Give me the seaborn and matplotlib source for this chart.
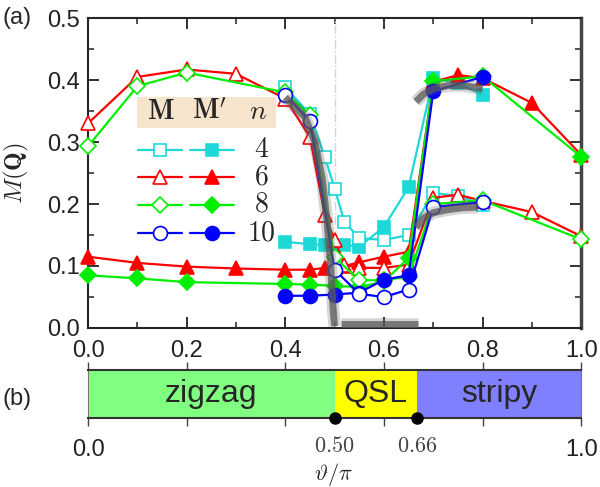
import numpy as np
import pandas as pd
import matplotlib
matplotlib.use('Agg')
import matplotlib.pyplot as plt
from matplotlib.lines import Line2D
from matplotlib.patches import Rectangle
import seaborn as sns

# ---- data ----
# n = 4 (cyan squares)
x4 = [0.40, 0.45, 0.48, 0.50, 0.52, 0.55, 0.60, 0.65, 0.70, 0.75, 0.80]
m4 = [0.388, 0.345, 0.276, 0.225, 0.171, 0.145, 0.142, 0.150, 0.218, 0.213, 0.199]
mp4 = [0.139, 0.135, 0.134, 0.134, 0.134, 0.131, 0.163, 0.227, 0.403, 0.395, 0.376]

# n = 6 (red triangles)
x6 = [0.0, 0.1, 0.2, 0.3, 0.4, 0.45, 0.48, 0.50, 0.52, 0.55, 0.60, 0.65, 0.70, 0.75, 0.80, 0.90, 1.0]
m6 = [0.330, 0.405, 0.417, 0.410, 0.370, 0.308, 0.182, 0.142, 0.102, 0.097, 0.097, 0.102,
      0.210, 0.215, 0.205, 0.187, 0.148]
mp6 = [0.115, 0.105, 0.099, 0.096, 0.094, 0.094, 0.097, 0.097, 0.100, 0.106, 0.115, 0.123,
       0.397, 0.408, 0.403, 0.363, 0.279]

# n = 8 (green diamonds)
x8 = [0.0, 0.1, 0.2, 0.4, 0.45, 0.50, 0.55, 0.60, 0.65, 0.70, 0.80, 1.0]
m8 = [0.293, 0.390, 0.412, 0.380, 0.343, 0.114, 0.077, 0.077, 0.083, 0.200, 0.206, 0.143]
mp8 = [0.085, 0.080, 0.074, 0.071, 0.070, 0.068, 0.066, 0.075, 0.113, 0.398, 0.406, 0.276]

# n = 10 (blue circles)
x10 = [0.40, 0.45, 0.50, 0.55, 0.60, 0.65, 0.70, 0.80]
m10 = [0.376, 0.334, 0.094, 0.055, 0.050, 0.062, 0.195, 0.203]
mp10 = [0.052, 0.052, 0.054, 0.057, 0.078, 0.085, 0.382, 0.405]

# thick gray guide curves
gray_segments = [
    ([0.40, 0.44, 0.46, 0.475, 0.485, 0.492, 0.497, 0.50], [0.372, 0.34, 0.30, 0.24, 0.17, 0.10, 0.03, 0.003]),
    ([0.512, 0.67], [0.007, 0.007]),
    ([0.665, 0.68, 0.70, 0.73, 0.76, 0.80], [0.365, 0.377, 0.386, 0.391, 0.391, 0.386]),
    ([0.665, 0.68, 0.70, 0.73, 0.76, 0.79], [0.162, 0.177, 0.186, 0.191, 0.194, 0.195]),
]

# phase diagram
phase_names = ['zigzag', 'QSL', 'stripy']
phase_edges = [0.0, 0.5, 0.667, 1.0]
phase_colors = ['#80ff80', '#ffff00', '#8080ff']
critical_points = [0.5, 0.667]
critical_labels = ['0.50', '0.66']

series = [
    ('4', x4, m4, mp4, '#1ed8d8', 's', 9),
    ('6', x6, m6, mp6, '#ff0000', '^', 10.5),
    ('8', x8, m8, mp8, '#00ee00', 'D', 8.5),
    ('10', x10, m10, mp10, '#0000ff', 'o', 10),
]

sns.set_style('ticks')
plt.rcParams['font.family'] = ['Liberation Sans', 'DejaVu Sans']
plt.rcParams['mathtext.fontset'] = 'cm'
plt.rcParams['axes.linewidth'] = 1.5

fig = plt.figure(figsize=(6, 4.87), dpi=100)
ax = fig.add_axes([0.1467, 0.3265, 0.822, 0.6365])
axb = fig.add_axes([0.1467, 0.1417, 0.822, 0.0985])

# vertical dash-dot line at the transition
ax.axvline(0.5, color='#c8d6e6', lw=1.0, ls='-.', zorder=1)

for label, xs, m, mp, c, mk, ms in series:
    df = pd.DataFrame({'theta': xs, 'M': m, 'Mp': mp})
    sns.lineplot(data=df, x='theta', y='Mp', ax=ax, color=c, lw=1.6, marker=mk,
                 markersize=ms, markerfacecolor=c, markeredgecolor=c, markeredgewidth=1.2,
                 zorder=3, clip_on=False)
    sns.lineplot(data=df, x='theta', y='M', ax=ax, color=c, lw=1.6, marker=mk,
                 markersize=ms, markerfacecolor='white', markeredgecolor=c, markeredgewidth=1.2,
                 zorder=3, clip_on=False)

for gx, gy in gray_segments:
    ax.plot(gx, gy, color='0.35', lw=9, alpha=0.25, solid_capstyle='butt', zorder=4, clip_on=True)
    ax.plot(gx, gy, color='0.35', lw=5, alpha=0.75, solid_capstyle='butt', zorder=4, clip_on=True)

ax.set_xlim(0, 1)
ax.set_ylim(0, 0.5)
ax.set_xticks(np.arange(0, 1.01, 0.2))
ax.set_xticks(np.arange(0, 1.01, 0.1), minor=True)
ax.set_yticks(np.arange(0, 0.51, 0.1))
ax.set_yticks(np.arange(0, 0.51, 0.05), minor=True)
ax.set_xticklabels(['0.0', '0.2', '0.4', '0.6', '0.8', '1.0'])
ax.set_yticklabels(['0.0', '0.1', '0.2', '0.3', '0.4', '0.5'])
ax.tick_params(which='both', direction='in', top=True, right=True, colors='#222',
               labelsize=17)
ax.tick_params(which='major', length=8, width=1.3)
ax.tick_params(which='minor', length=4, width=1.1)
ax.tick_params(axis='x', pad=9)
ax.tick_params(axis='y', pad=6)
ax.spines['right'].set_linewidth(2.5)
ax.spines['right'].set_color('#444')
ax.set_xlabel('')
ax.set_ylabel(r'$M(\mathbf{Q})$', fontsize=18)
ax.yaxis.set_label_coords(-0.115, 0.5)

# legend table
ax.add_patch(Rectangle((0.099, 0.645), 0.282, 0.1, transform=ax.transAxes,
                       facecolor='#f6e4cc', edgecolor='none', zorder=5))
for tx, s in [(0.148, r'$\mathbf{M}$'), (0.247, r"$\mathbf{M}'$"), (0.345, r'$n$')]:
    ax.text(tx, 0.697, s, transform=ax.transAxes, fontsize=20, ha='center', va='center', zorder=6)
row_y = [0.574, 0.487, 0.397, 0.306]
for (label, xs, m, mp, c, mk, ms), yy in zip(series, row_y):
    ax.add_line(Line2D([0.101, 0.191], [yy, yy], transform=ax.transAxes, color=c, lw=1.6,
                       zorder=6))
    ax.add_line(Line2D([0.146], [yy], transform=ax.transAxes, marker=mk, markersize=ms,
                       markerfacecolor='white', markeredgecolor=c, markeredgewidth=1.2, zorder=6))
    ax.add_line(Line2D([0.207, 0.296], [yy, yy], transform=ax.transAxes, color=c, lw=1.6,
                       zorder=6))
    ax.add_line(Line2D([0.252], [yy], transform=ax.transAxes, marker=mk, markersize=ms,
                       markerfacecolor=c, markeredgecolor=c, markeredgewidth=1.2, zorder=6))
    ax.text(0.352, yy, '$' + label + '$', transform=ax.transAxes, fontsize=20,
            ha='center', va='center', zorder=6)

# phase bar
widths = np.diff(phase_edges)
axb.barh([0.5] * 3, widths, left=phase_edges[:-1], height=1.0, color=phase_colors,
         edgecolor='none')
for name, lo, w in zip(phase_names, phase_edges[:-1], widths):
    axb.text(lo + w / 2, 0.5, name, ha='center', va='center', fontsize=23)
axb.plot(critical_points, [0, 0], 'o', color='black', ms=8, clip_on=False, zorder=5)
axb.set_xlim(0, 1)
axb.set_ylim(0, 1)
axb.set_yticks([])
axb.set_xticks(np.arange(0, 1.01, 0.2))
axb.set_xticklabels(['0.0', '', '', '', '', '1.0'])
axb.tick_params(axis='x', direction='out', top=True, length=6, width=1.0, colors='#444',
                labelcolor='#222', labelsize=17, pad=9)
axb.set_xticks(critical_points, labels=['$' + s + '$' for s in critical_labels], minor=True)
axb.tick_params(axis='x', which='minor', length=0, labelsize=16, labelcolor='#444', pad=13)
for side in ['top', 'bottom']:
    axb.spines[side].set_linewidth(1.5)
    axb.spines[side].set_color('#333')
for side in ['left', 'right']:
    axb.spines[side].set_linewidth(0.8)
    axb.spines[side].set_color('#777')
axb.set_xlabel(r'$\vartheta/\pi$', fontsize=16)
axb.xaxis.set_label_coords(0.497, -0.90)

fig.text(0.005, 0.963, '(a)', fontsize=17, va='center', ha='left')
fig.text(0.005, 0.180, '(b)', fontsize=17, va='center', ha='left')

fig.savefig('out.png', dpi=100)
